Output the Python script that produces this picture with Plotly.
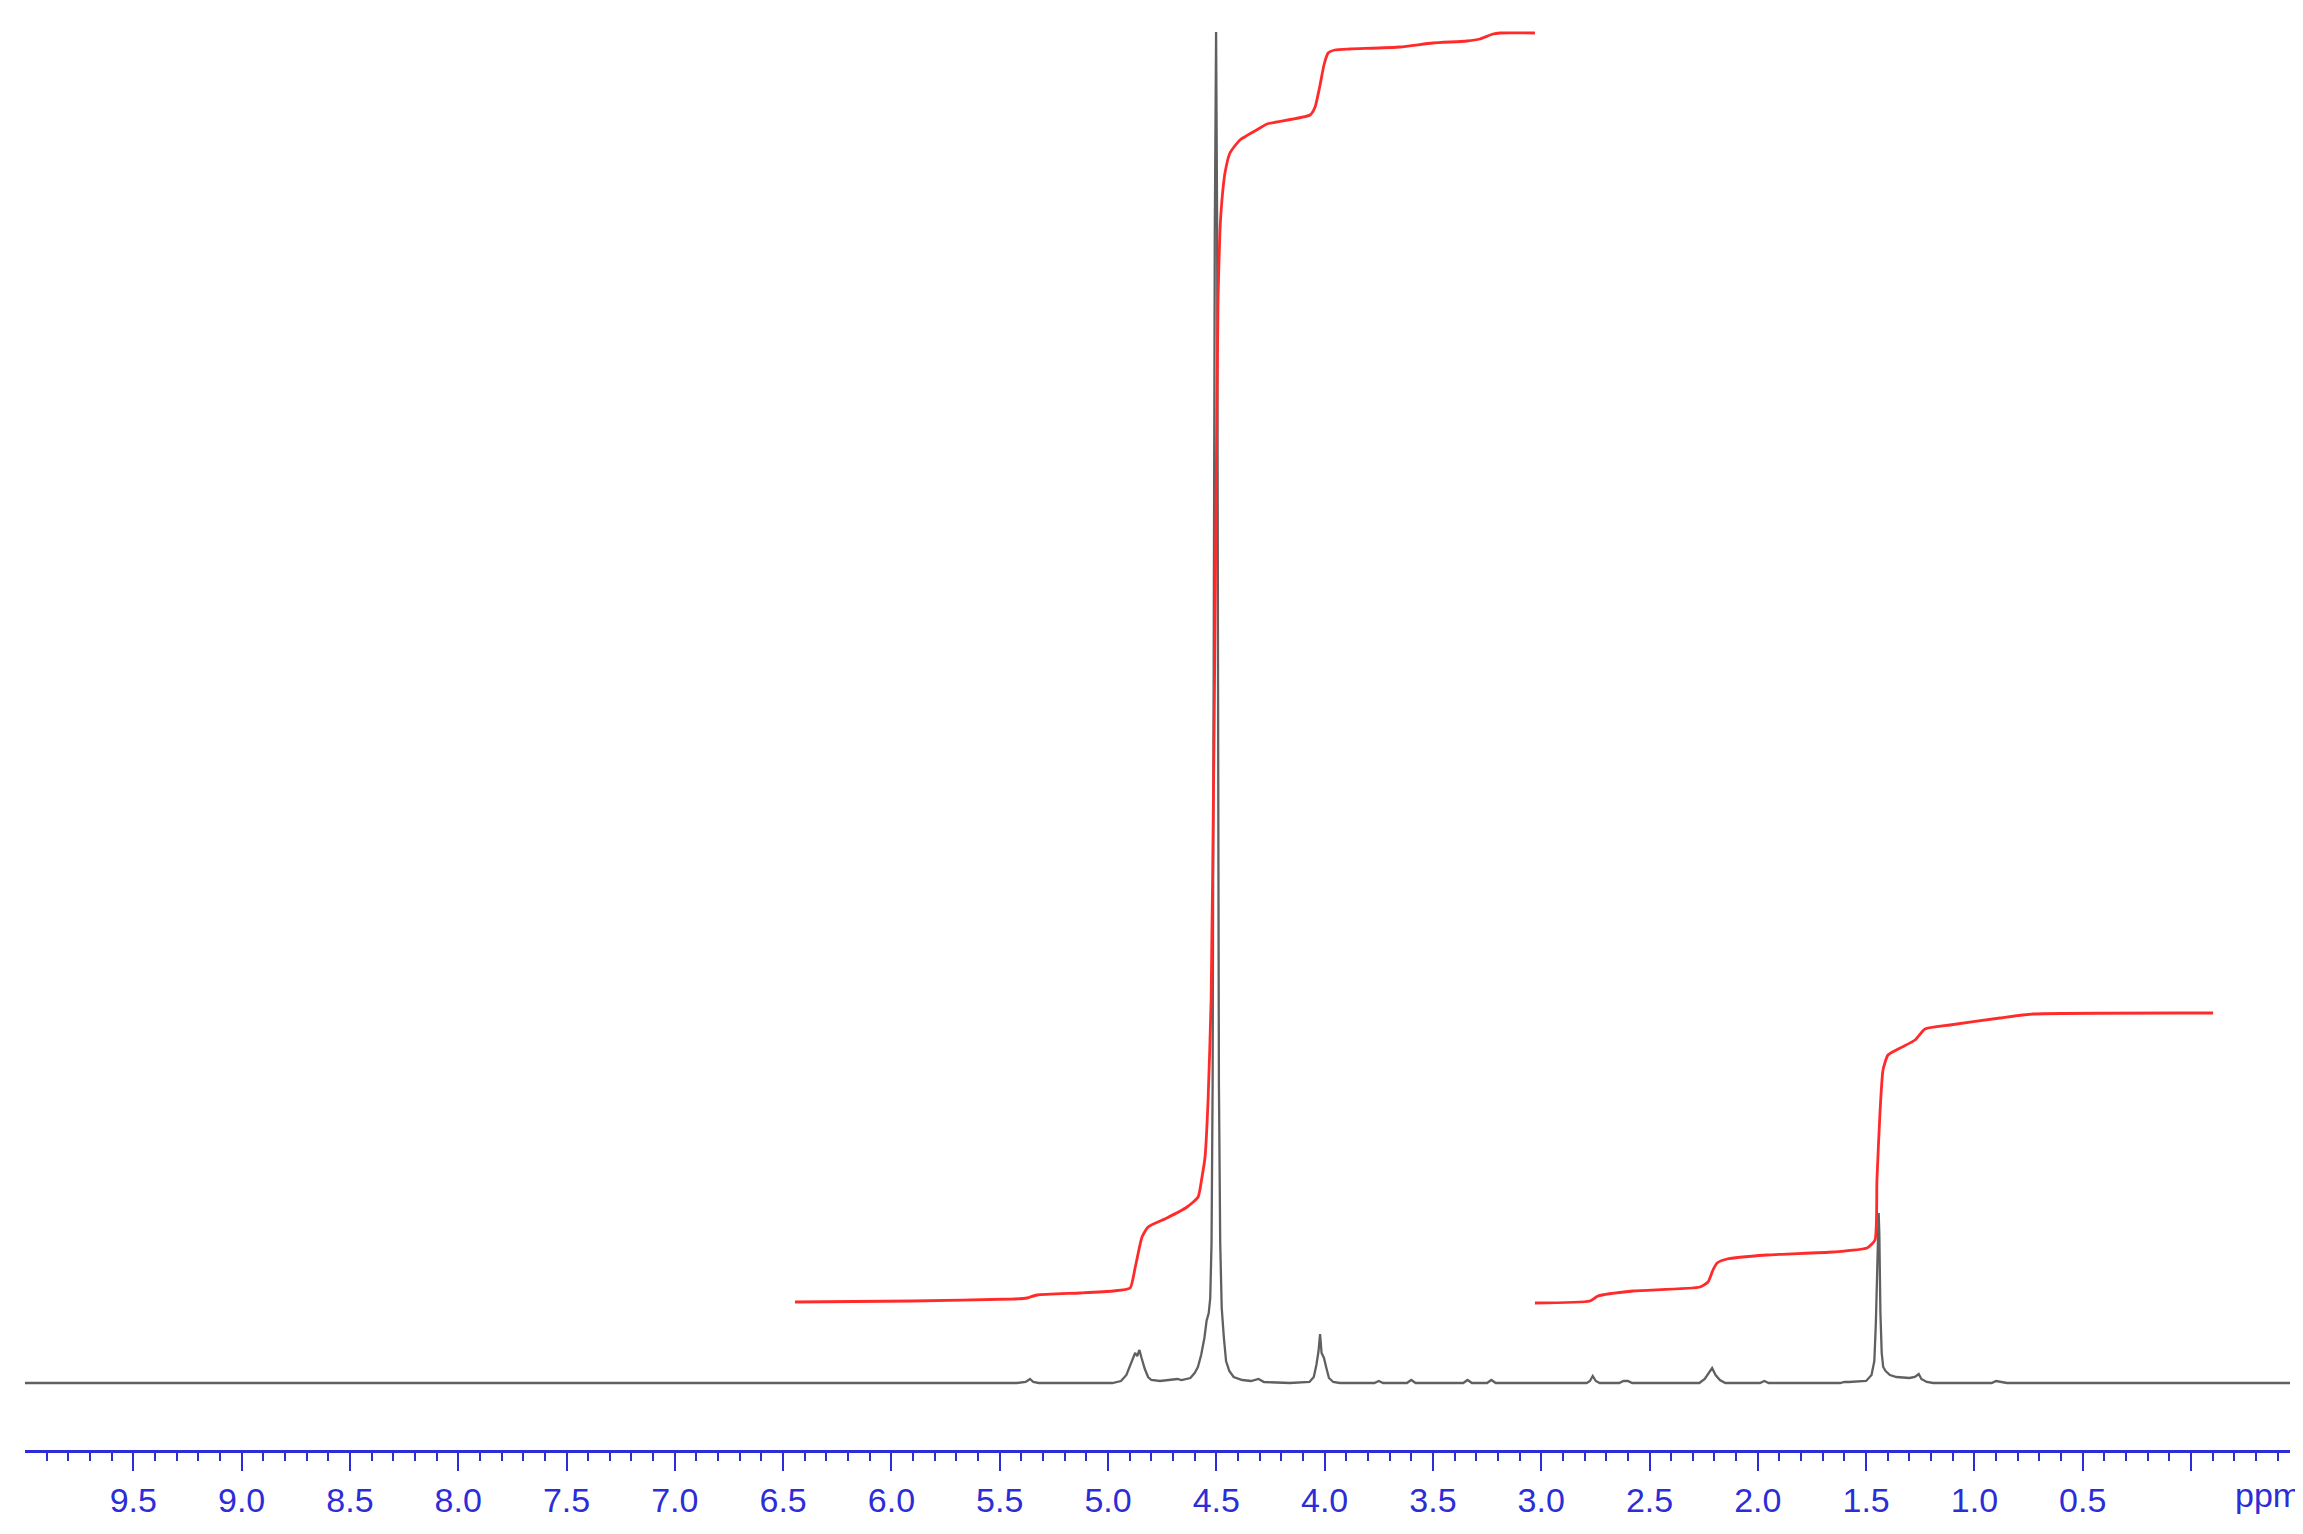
import numpy as np
import plotly.graph_objects as go

# ---- spectrum (chemical shift in ppm, intensity in arbitrary units) ----
spec_ppm = [10.00, 5.42, 5.38, 5.36, 5.345, 5.32,
            4.98, 4.94, 4.915, 4.895, 4.875, 4.865, 4.855, 4.845, 4.83, 4.815, 4.80,
            4.76, 4.70, 4.68, 4.66, 4.62, 4.60, 4.585, 4.57, 4.555, 4.545, 4.535, 4.528,
            4.522, 4.517, 4.512, 4.507, 4.501, 4.496, 4.492, 4.488, 4.482, 4.475, 4.465,
            4.455, 4.44, 4.42, 4.38, 4.34, 4.305, 4.28, 4.16,
            4.07, 4.05, 4.038, 4.028, 4.021, 4.014, 4.003, 3.993, 3.98, 3.96, 3.93,
            3.77, 3.75, 3.73, 3.62, 3.60, 3.58, 3.36, 3.34, 3.32, 3.25, 3.23, 3.21,
            2.79, 2.775, 2.762, 2.748, 2.73, 2.64, 2.62, 2.60, 2.58,
            2.27, 2.245, 2.225, 2.211, 2.195, 2.175, 2.15, 1.99, 1.97, 1.95,
            1.62, 1.60, 1.58, 1.50, 1.475, 1.462, 1.455, 1.448, 1.442, 1.439, 1.434,
            1.428, 1.421, 1.41, 1.39, 1.36, 1.30, 1.275, 1.257, 1.245, 1.22, 1.19,
            0.92, 0.90, 0.87, 0.85, -0.46]
spec_int = [0, 0, 1, 4, 1, 0,
            0, 2, 8, 20, 30, 27, 33, 25, 14, 6, 3,
            2, 3, 4, 3, 5, 10, 16, 28, 45, 62, 70, 85,
            140, 300, 700, 1150, 1351, 1150, 700, 300, 140, 75, 45,
            22, 12, 6, 3, 2, 4, 1, 0,
            1, 6, 18, 32, 49, 30, 25, 16, 5, 1, 0,
            0, 2, 0, 0, 3, 0, 0, 3, 0, 0, 3, 0,
            0, 2, 7, 2, 0, 0, 2, 2, 0,
            0, 4, 10, 15, 8, 3, 0, 0, 2, 0,
            0, 1, 1, 2, 8, 22, 60, 130, 170, 150, 70,
            30, 16, 12, 8, 6, 5, 6, 9, 4, 1, 0,
            0, 2, 1, 0, 0]

# ---- integral curve 1 (6.45 - 3.03 ppm) ----
int1_ppm = [6.445, 5.900, 5.439, 5.374, 5.328, 5.129, 4.977, 4.898, 4.875, 4.843,
            4.815, 4.728, 4.635, 4.584, 4.566, 4.552, 4.538, 4.524, 4.511, 4.501,
            4.492, 4.483, 4.474, 4.460, 4.437, 4.391, 4.298, 4.266, 4.067, 4.044,
            4.021, 4.003, 3.984, 3.952, 3.883, 3.652, 3.500, 3.343, 3.283, 3.223,
            3.190, 3.029]
int1_val = [81, 82, 84, 85, 88, 90, 92, 95, 115, 146,
            156, 165, 176, 186, 206, 226, 283, 383, 633, 883,
            1083, 1153, 1183, 1210, 1230, 1243, 1255, 1259, 1268, 1276,
            1298, 1318, 1330, 1333, 1334, 1336, 1340, 1342, 1344, 1349,
            1350, 1350]

# ---- integral curve 2 (3.03 - -0.10 ppm) ----
int2_ppm = [3.029, 2.775, 2.738, 2.576, 2.267, 2.230, 2.207, 2.188, 2.142, 1.958,
            1.653, 1.496, 1.459, 1.450, 1.436, 1.422, 1.399, 1.343, 1.274, 1.228,
            1.113, 0.882, 0.729, -0.102]
int2_val = [80, 82, 87, 92, 96, 101, 113, 120, 124, 128,
            131, 135, 143, 203, 270, 313, 328, 335, 343, 354,
            358, 365, 369, 370]

assert len(spec_ppm) == len(spec_int)
assert len(int1_ppm) == len(int1_val)
assert len(int2_ppm) == len(int2_val)

major_ticks = [round(v, 1) for v in np.arange(0.0, 9.51, 0.5)]
major_text = ["" if v == 0.0 else f"{v:.1f}" for v in major_ticks]
minor_ticks = [round(v, 1) for v in np.arange(-0.4, 9.91, 0.1)
               if abs(round(v * 2) - v * 2) > 1e-6]

BLUE = "rgb(45,45,215)"
FONT = "Liberation Sans, Arial, sans-serif"

fig = go.Figure()
fig.add_trace(go.Scatter(x=spec_ppm, y=spec_int, mode="lines",
                         line=dict(color="#606060", width=2.3), hoverinfo="skip"))
for xs, ys in ((int1_ppm, int1_val), (int2_ppm, int2_val)):
    fig.add_trace(go.Scatter(x=xs, y=ys, mode="lines",
                             line=dict(color="#ff2b2b", width=2.8, shape="spline", smoothing=0.5),
                             hoverinfo="skip"))

fig.update_layout(
    width=2295, height=1526,
    margin=dict(l=17, r=13, t=0, b=84),
    paper_bgcolor="white", plot_bgcolor="white",
    showlegend=False,
    font=dict(family=FONT, color=BLUE, size=34),
    xaxis=dict(
        range=[10.0, -0.457], showgrid=False, zeroline=False,
        showline=True, linecolor=BLUE, linewidth=3,
        tickmode="array", tickvals=major_ticks, ticktext=major_text,
        ticks="outside", ticklen=18, tickwidth=2, tickcolor=BLUE,
        tickfont=dict(size=34, color=BLUE, family=FONT),
        minor=dict(tickmode="array", tickvals=minor_ticks, ticks="outside",
                   ticklen=8, tickwidth=2, tickcolor=BLUE),
    ),
    yaxis=dict(range=[-67, 1375], visible=False, showgrid=False, zeroline=False),
    annotations=[dict(text="ppm", xref="x", yref="paper", x=-0.194, y=0,
                      xanchor="left", yanchor="middle", yshift=-45, showarrow=False,
                      font=dict(size=34, color=BLUE, family=FONT))],
)

fig.write_html("out.html")
